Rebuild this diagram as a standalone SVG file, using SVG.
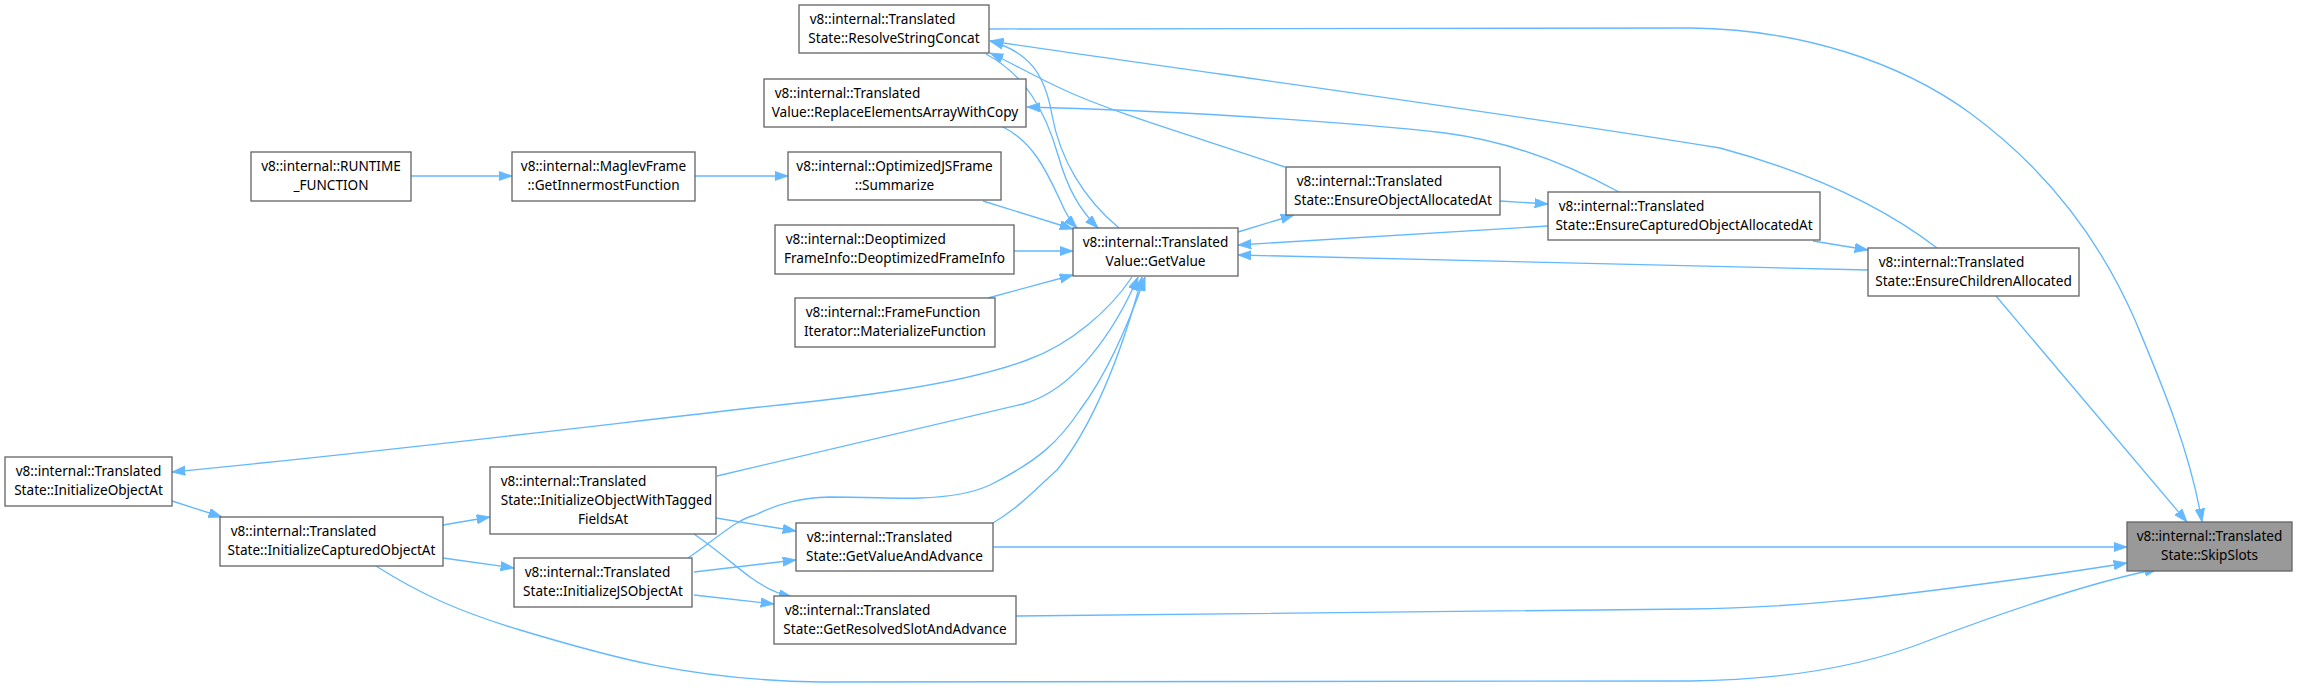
<svg xmlns="http://www.w3.org/2000/svg" width="2297" height="687" viewBox="0 0 2297 687">
<style>
.n rect{fill:#ffffff;stroke:#666666;stroke-width:1.33}
.n.f rect{fill:#999999}
.n text{font-family:"Noto Sans","DejaVu Sans",sans-serif;font-size:13.6px;fill:#000000}
.n text.c{text-anchor:middle}
#edges path{fill:none;stroke:#63b8ff;stroke-width:1.33;marker-end:url(#ah)}
</style>
<defs>
<marker id="ah" markerUnits="userSpaceOnUse" markerWidth="14" markerHeight="10" refX="13.3" refY="4.7" orient="auto" viewBox="0 0 14 10">
<path d="M0,0 L13.3,4.7 L0,9.4 z" fill="#63b8ff" stroke="#63b8ff" stroke-width="0.8"/>
</marker>
</defs>
<rect width="2297" height="687" fill="#ffffff"/>
<g id="edges">
<path d="M411,176 L512,176"/>
<path d="M695,176 L788,176"/>
<path d="M983,201 L1073,229"/>
<path d="M1014,251 L1073,251"/>
<path d="M988,298 L1073,275"/>
<path d="M1003,127 C1035,143 1048,175 1060,200 C1065,212 1069,220 1077,228"/>
<path d="M986,54 C1025,75 1045,110 1058,155 C1068,190 1080,210 1098,228"/>
<path d="M1119,228 C1085,200 1060,160 1052,115 C1045,75 1030,52 990,41"/>
<path d="M1285,167 C1200,138 1110,112 1060,88 C1030,74 1010,62 990,53"/>
<path d="M1238,232 L1294,215"/>
<path d="M1500,201 L1548,204"/>
<path d="M1813,241 L1868,250"/>
<path d="M1548,226 L1238,245"/>
<path d="M1868,270 L1238,255"/>
<path d="M1619,192 C1560,160 1500,140 1445,133 C1330,120 1150,110 1027,107"/>
<path d="M1937,248 C1890,212 1820,175 1720,148 C1500,112 1200,72 990,41"/>
<path d="M989,29 L1690,28 C1800,29 1900,62 1970,113 C2045,168 2100,240 2135,320 C2160,380 2190,450 2202,522"/>
<path d="M1996,296 L2187,522"/>
<path d="M993,547 L2127,547"/>
<path d="M1016,616 C1300,611 1550,610 1690,609 C1800,608 1900,595 1990,583 C2050,575 2090,569 2127,563"/>
<path d="M376,566 C420,594 460,612 520,630 C610,657 690,680 820,682 L1690,681 C1780,680 1860,668 1930,640 C2010,610 2100,580 2158,569"/>
<path d="M1132,277 C1110,310 1070,345 1027,360 C960,385 850,398 760,407 C600,425 400,450 172,472"/>
<path d="M172,501 L222,517"/>
<path d="M443,525 L490,517"/>
<path d="M443,558 L514,568"/>
<path d="M717,476 L1023,404 C1075,390 1115,330 1138,277"/>
<path d="M716,518 L796,531"/>
<path d="M694,534 C720,552 735,566 750,577 C765,588 778,594 792,597"/>
<path d="M688,558 C715,540 735,520 755,515 C780,503 800,498 830,497 C870,497 900,499 920,498 C950,497 975,492 990,485 C1040,460 1060,440 1080,410 C1110,370 1130,320 1145,277"/>
<path d="M694,572 L796,560"/>
<path d="M694,595 L774,604"/>
<path d="M993,523 C1020,507 1040,485 1057,470 C1090,430 1120,360 1142,277"/>
</g>
<g id="n_runtime" class="n"><rect x="251" y="152" width="160" height="49"/><text class="c" x="331" y="170.5">v8::internal::RUNTIME</text><text class="c" x="331" y="189.5">_FUNCTION</text></g>
<g id="n_maglev" class="n"><rect x="512" y="152" width="183" height="49"/><text class="c" x="603.5" y="170.5">v8::internal::MaglevFrame</text><text class="c" x="603.5" y="189.5">::GetInnermostFunction</text></g>
<g id="n_resolve" class="n"><rect x="799" y="5" width="190" height="48"/><text x="809.7" y="23.5">v8::internal::Translated</text><text class="c" x="894" y="42.5">State::ResolveStringConcat</text></g>
<g id="n_replace" class="n"><rect x="764" y="79" width="262" height="48"/><text x="774.7" y="97.5">v8::internal::Translated</text><text class="c" x="895" y="116.5">Value::ReplaceElementsArrayWithCopy</text></g>
<g id="n_summarize" class="n"><rect x="788" y="152" width="213" height="48"/><text class="c" x="894.5" y="170.5">v8::internal::OptimizedJSFrame</text><text class="c" x="894.5" y="189.5">::Summarize</text></g>
<g id="n_deopt" class="n"><rect x="775" y="225" width="239" height="49"/><text x="785.7" y="243.5">v8::internal::Deoptimized</text><text class="c" x="894.5" y="262.5">FrameInfo::DeoptimizedFrameInfo</text></g>
<g id="n_materialize" class="n"><rect x="795" y="298" width="200" height="49"/><text x="805.7" y="316.5">v8::internal::FrameFunction</text><text class="c" x="895" y="335.5">Iterator::MaterializeFunction</text></g>
<g id="n_getvalue" class="n"><rect x="1073" y="228" width="165" height="48"/><text class="c" x="1155.5" y="246.5">v8::internal::Translated</text><text class="c" x="1155.5" y="265.5">Value::GetValue</text></g>
<g id="n_ensureobj" class="n"><rect x="1286" y="167" width="214" height="48"/><text x="1296.7" y="185.5">v8::internal::Translated</text><text class="c" x="1393" y="204.5">State::EnsureObjectAllocatedAt</text></g>
<g id="n_ensurecap" class="n"><rect x="1548" y="192" width="272" height="48"/><text x="1558.7" y="210.5">v8::internal::Translated</text><text class="c" x="1684" y="229.5">State::EnsureCapturedObjectAllocatedAt</text></g>
<g id="n_ensurechildren" class="n"><rect x="1868" y="248" width="211" height="48"/><text x="1878.7" y="266.5">v8::internal::Translated</text><text class="c" x="1973.5" y="285.5">State::EnsureChildrenAllocated</text></g>
<g id="n_skipslots" class="n f"><rect x="2127" y="522" width="165" height="49"/><text class="c" x="2209.5" y="540.5">v8::internal::Translated</text><text class="c" x="2209.5" y="559.5">State::SkipSlots</text></g>
<g id="n_initobj" class="n"><rect x="5" y="457" width="167" height="49"/><text x="15.7" y="475.5">v8::internal::Translated</text><text class="c" x="88.5" y="494.5">State::InitializeObjectAt</text></g>
<g id="n_initcap" class="n"><rect x="220" y="517" width="223" height="49"/><text x="230.7" y="535.5">v8::internal::Translated</text><text class="c" x="331.5" y="554.5">State::InitializeCapturedObjectAt</text></g>
<g id="n_inittagged" class="n"><rect x="490" y="467" width="226" height="67"/><text x="500.7" y="485.5">v8::internal::Translated</text><text x="500.7" y="504.5">State::InitializeObjectWithTagged</text><text class="c" x="603" y="523.5">FieldsAt</text></g>
<g id="n_initjs" class="n"><rect x="514" y="558" width="178" height="49"/><text x="524.7" y="576.5">v8::internal::Translated</text><text class="c" x="603" y="595.5">State::InitializeJSObjectAt</text></g>
<g id="n_getvalueadv" class="n"><rect x="796" y="523" width="197" height="48"/><text x="806.7" y="541.5">v8::internal::Translated</text><text class="c" x="894.5" y="560.5">State::GetValueAndAdvance</text></g>
<g id="n_getresolved" class="n"><rect x="774" y="596" width="242" height="48"/><text x="784.7" y="614.5">v8::internal::Translated</text><text class="c" x="895" y="633.5">State::GetResolvedSlotAndAdvance</text></g>
</svg>
